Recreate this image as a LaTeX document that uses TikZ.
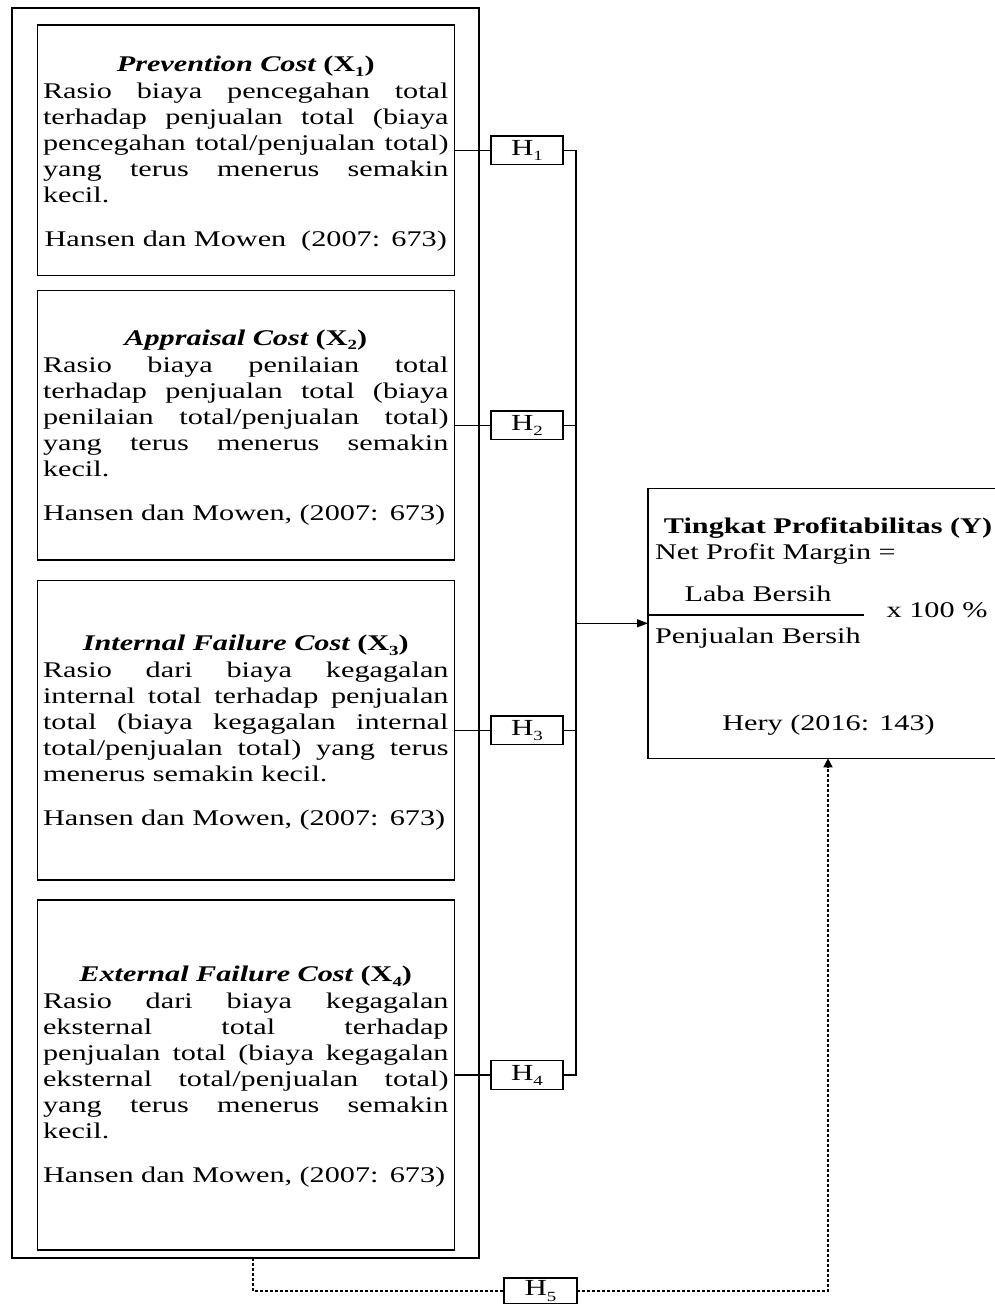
\documentclass[tikz,border=0pt]{standalone}
\usepackage{fontspec}
\setmainfont{Liberation Serif}[FakeStretch=1.35]
\usetikzlibrary{arrows.meta}
\newlength\parw
\setlength\parw{405.5pt}
\newcommand\jln[1]{\hbox to \parw{\spaceskip=\fontdimen2\font plus 1fil\relax\xspaceskip=\spaceskip #1}}
\newcommand\ctl[1]{\hbox to \parw{\hfil#1\hfil}}
\newcommand\lln[1]{\hbox{#1}}
\newcommand\sbs[1]{\raisebox{-0.2em}{\fontsize{14}{14}\selectfont #1}}
\newcommand\sbh[1]{\raisebox{-0.22em}{\fontsize{14}{14}\selectfont #1}}
\tikzset{
  body/.style={font=\fontsize{22.4}{26}\selectfont},
  para/.style={body, text width=405.5pt, inner sep=0pt, outer sep=0pt, anchor=base west},
  frame/.style={draw, line width=1.4pt, inner sep=0pt, outer sep=0pt},
  hyp/.style={draw, line width=1.4pt, minimum width=72pt, minimum height=28.6pt, inner sep=0pt, outer sep=0pt, font=\fontsize{23}{23}\selectfont},
  conn/.style={line width=1.4pt},
  dotline/.style={line width=1.4pt, dash pattern=on 3pt off 2pt},
  lbl/.style={body, inner sep=0pt, outer sep=0pt},
}
\begin{document}
\begin{tikzpicture}[x=1pt,y=-1pt]
\useasboundingbox (0,0) rectangle (995,1304);
\clip (0,0) rectangle (995,1304);

% frames
\node[frame, line width=1.6pt, minimum width=467pt, minimum height=1250pt] (outer) at (245.5,633) {};
\node[frame, minimum width=417pt, minimum height=250.5pt] (b1) at (246,150.25) {};
\node[frame, minimum width=417pt, minimum height=269.5pt] (b2) at (246,425.25) {};
\node[frame, minimum width=417pt, minimum height=299.5pt] (b3) at (246,730.25) {};
\node[frame, minimum width=417pt, minimum height=350pt] (b4) at (246,1075) {};

% box texts
\node[para] (t1) at (43,71.7) {%
\ctl{\bfseries\itshape Prevention Cost \upshape(X\sbs{1})}\vskip1pt
\jln{Rasio biaya pencegahan total}
\jln{terhadap penjualan total (biaya}
\jln{pencegahan total/penjualan total)}
\jln{yang terus menerus semakin}
\lln{kecil.}\vskip18pt
\ctl{Hansen dan Mowen\ \ (2007: 673)}};

\node[para] (t2) at (43,345) {%
\ctl{\bfseries\itshape Appraisal Cost \upshape(X\sbs{2})}\vskip1pt
\jln{Rasio biaya penilaian total}
\jln{terhadap penjualan total (biaya}
\jln{penilaian total/penjualan total)}
\jln{yang terus menerus semakin}
\lln{kecil.}\vskip18pt
\lln{Hansen dan Mowen, (2007: 673)}};

\node[para] (t3) at (43,650.7) {%
\ctl{\bfseries\itshape Internal Failure Cost \upshape(X\sbs{3})}\vskip1pt
\jln{Rasio dari biaya kegagalan}
\jln{internal total terhadap penjualan}
\jln{total (biaya kegagalan internal}
\jln{total/penjualan total) yang terus}
\lln{menerus semakin kecil.}\vskip18pt
\lln{Hansen dan Mowen, (2007: 673)}};

\node[para] (t4) at (43,981.7) {%
\ctl{\bfseries\itshape External Failure Cost \upshape(X\sbs{4})}\vskip1pt
\jln{Rasio dari biaya kegagalan}
\jln{eksternal total terhadap}
\jln{penjualan total (biaya kegagalan}
\jln{eksternal total/penjualan total)}
\jln{yang terus menerus semakin}
\lln{kecil.}\vskip18pt
\lln{Hansen dan Mowen, (2007: 673)}};

% hypothesis boxes
\node[hyp] (H1) at (527,150.25) {H\sbh{1}};
\node[hyp] (H2) at (527,425.25) {H\sbh{2}};
\node[hyp] (H3) at (527,730.25) {H\sbh{3}};
\node[hyp] (H4) at (527,1075) {H\sbh{4}};

% dependent variable box
\node[frame, minimum width=360pt, minimum height=270pt] (Y) at (828,623.3) {};
\node[lbl, anchor=base, font=\fontsize{22.4}{26}\selectfont\bfseries] (yt) at (828,533.3) {Tingkat Profitabilitas (Y)};
\node[lbl, anchor=base west] (npm) at (655,559.3) {Net Profit Margin =};
\node[lbl, anchor=base] (lb) at (758,601.7) {Laba Bersih};
\coordinate (fe) at (864,615);
\draw[line width=1.1pt] (Y.west |- fe) -- (fe);
\node[lbl, anchor=base west] (pct) at (886.7,617.7) {x 100 \%};
\node[lbl, anchor=base west] (pb) at (655,643.3) {Penjualan Bersih};
\node[lbl, anchor=base] (hery) at (828.5,730) {Hery (2016: 143)};

% connectors
\coordinate (tr) at (576,0);
\draw[conn] (b1.east) -- (H1.west);
\draw[conn] (b2.east) -- (H2.west);
\draw[conn] (b3.east) -- (H3.west);
\draw[conn] (b4.east) -- (H4.west);
\draw[conn] (H1.east) -- (H1.east -| tr) -- (H4.east -| tr) -- (H4.east);
\draw[conn] (H2.east) -- (H2.east -| tr);
\draw[conn] (H3.east) -- (H3.east -| tr);
\draw[conn, -{Triangle[length=11pt,width=8pt]}] (Y.west -| tr) -- (Y.west);

% H5 dashed path
\coordinate (d0) at (253,1258);
\node[hyp, minimum width=73pt, minimum height=26pt] (H5) at (540.5,1291) {H\sbh{5}};
\draw[dotline] (d0) -- (d0 |- H5.west) -- (H5.west);
\draw[dotline, -{Triangle[length=9pt,width=9pt]}] (H5.east) -- (H5.east -| Y.south) -- (Y.south);
\end{tikzpicture}
\end{document}
